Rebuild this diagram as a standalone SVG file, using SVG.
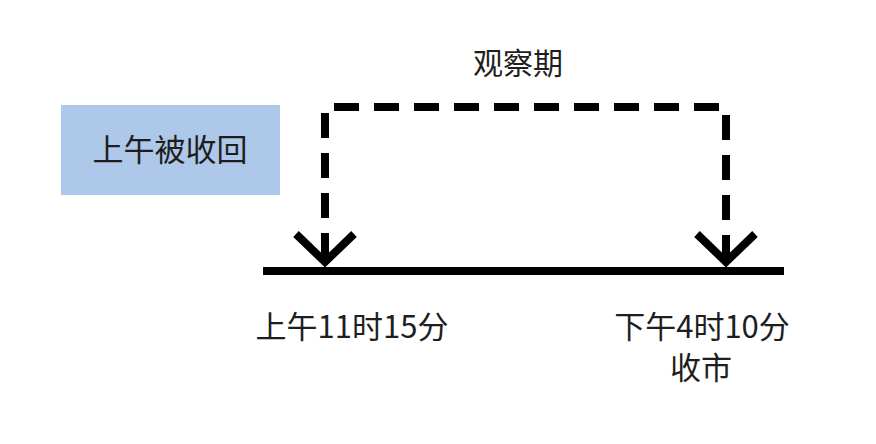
<svg xmlns="http://www.w3.org/2000/svg" width="876" height="444" viewBox="0 0 876 444">
  <style>
    .lbl { font-family: "Noto Sans CJK SC", "Liberation Sans", sans-serif; fill: #1e1e1e; text-anchor: middle; }
    .conn { fill: none; stroke: #000; stroke-width: 8; }
    .dash { stroke-dasharray: 25 15; stroke-dashoffset: 36; }
  </style>
  <defs>
    <marker id="vhead" markerUnits="userSpaceOnUse" viewBox="-40 -40 50 80" refX="0" refY="0" markerWidth="50" markerHeight="80" orient="auto-start-reverse">
      <path d="M -28 -29 L 0 0 L -28 29" fill="none" stroke="#000" stroke-width="8" stroke-linejoin="miter"/>
    </marker>
  </defs>
  <rect width="876" height="444" fill="#fff"/>

  <g id="node-recalled">
    <rect x="61" y="105" width="219" height="90" fill="#adc8e8"/>
    <text class="lbl" x="170" y="161" font-size="31">上午被收回</text>
  </g>

  <g id="node-timeline">
    <line x1="263" y1="271" x2="784" y2="271" stroke="#000" stroke-width="8"/>
  </g>

  <g id="node-start">
    <text class="lbl" x="352" y="338" font-size="31">上午11时15分</text>
  </g>

  <g id="node-end">
    <text class="lbl" x="702" y="338" font-size="31">下午4时10分</text>
    <text class="lbl" x="701" y="379" font-size="31">收市</text>
  </g>

  <g id="label-period">
    <text class="lbl" x="518" y="74" font-size="30">观察期</text>
  </g>

  <g id="connectors">
    <path class="conn dash" d="M 325 262 V 107 H 726 V 262" marker-start="url(#vhead)" marker-end="url(#vhead)"/>
  </g>
</svg>
